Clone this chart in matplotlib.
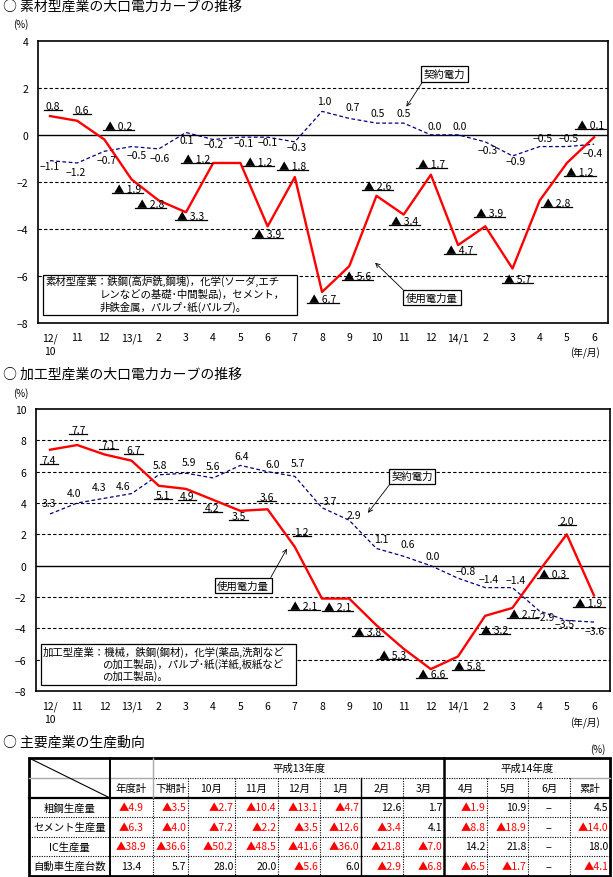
import matplotlib
matplotlib.use("Agg")
import matplotlib.pyplot as plt
from matplotlib.lines import Line2D
from matplotlib.patches import Rectangle
import numpy as np

plt.rcParams['font.family'] = ['Noto Sans CJK JP', 'DejaVu Sans']

# ---- data ----
months = ["12/\n10", "11", "12", "13/1", "2", "3", "4", "5", "6", "7", "8",
          "9", "10", "11", "12", "14/1", "2", "3", "4", "5", "6"]

# 素材型産業
sozai_use = [0.8, 0.6, -0.2, -1.9, -2.8, -3.3, -1.2, -1.2, -3.9, -1.8, -6.7,
             -5.6, -2.6, -3.4, -1.7, -4.7, -3.9, -5.7, -2.8, -1.2, -0.1]
sozai_contract = [-1.1, -1.2, -0.7, -0.5, -0.6, 0.1, -0.2, -0.1, -0.1, -0.3, 1.0,
                  0.7, 0.5, 0.5, 0.0, 0.0, -0.3, -0.9, -0.5, -0.5, -0.4]

# 加工型産業
kakou_use = [7.4, 7.7, 7.1, 6.7, 5.1, 4.9, 4.2, 3.5, 3.6, 1.2, -2.1,
             -2.1, -3.8, -5.3, -6.6, -5.8, -3.2, -2.7, -0.3, 2.0, -1.9]
kakou_contract = [3.3, 4.0, 4.3, 4.6, 5.8, 5.9, 5.6, 6.4, 6.0, 5.7, 3.7,
                  2.9, 1.1, 0.6, 0.0, -0.8, -1.4, -1.4, -2.9, -3.5, -3.6]

# label offsets (pixels)
sozai_use_off = [(3, 10), (5, 11), (14, 14), (-4, -10), (-8, -3), (5, -4), (-17, 4),
                 (18, 1), (0, -8), (-2, 11), (1, -7), (8, -10), (1, 10), (1, -6),
                 (1, 11), (2, -5), (4, 13), (5, -10), (17, -2), (13, -9), (-4, 12)]
sozai_con_off = [(0, -5), (-1, -9), (2, -9), (5, -8), (1, -9), (1, -8), (1, -4),
                 (3, -6), (0, -5), (2, -5), (2, 10), (3, 11), (1, 10), (0, 10),
                 (4, 9), (2, 9), (2, -8), (3, -5), (3, 9), (2, 9), (-1, -9)]
kakou_use_off = [(-1, -10), (1, 15), (4, 9), (2, 11), (4, -9), (1, -7), (-1, -8),
                 (-2, -5), (-1, 12), (7, 15), (-18, -7), (-12, -8), (-9, -7),
                 (-11, -6), (1, -5), (10, -9), (9, -14), (10, -6), (13, -4),
                 (0, 13), (-5, -8)]
kakou_con_off = [(-1, 11), (-3, 10), (-5, 11), (-8, 8), (1, 10), (3, 11), (0, 12),
                 (1, 9), (5, 8), (3, 13), (8, 7), (5, 5), (5, 9), (4, 12), (2, 10),
                 (8, 7), (4, 9), (3, 8), (5, -6), (-2, -4), (1, -9)]

# 主要産業の生産動向
tbl_cols = ["年度計", "下期計", "10月", "11月", "12月", "1月", "2月", "3月",
            "4月", "5月", "6月", "累計"]
tbl_rows = ["粗鋼生産量", "セメント生産量", "IC生産量", "自動車生産台数"]
steel = [-4.9, -3.5, -2.7, -10.4, -13.1, -4.7, 12.6, 1.7, -1.9, 10.9, None, 4.5]
cement = [-6.3, -4.0, -7.2, -2.2, -3.5, -12.6, -3.4, 4.1, -8.8, -18.9, None, -14.0]
ic = [-38.9, -36.6, -50.2, -48.5, -41.6, -36.0, -21.8, -7.0, 14.2, 21.8, None, 18.0]
cars = [13.4, 5.7, 28.0, 20.0, -5.6, 6.0, -2.9, -6.8, -6.5, -1.7, None, -4.1]
tbl_vals = [steel, cement, ic, cars]

W, H = 613, 878
fig = plt.figure(figsize=(W / 100, H / 100), dpi=100)
ov = fig.add_axes([0, 0, 1, 1])
ov.set_xlim(0, W)
ov.set_ylim(H, 0)
ov.axis('off')

RED = '#ff0000'
NAVY = '#000080'
FS = 7.5
underlined = []


def fmt_use(v):
    return "▲ %.1f" % abs(v) if v < 0 else "%.1f" % v


def fmt_con(v):
    return "−%.1f" % abs(v) if v < 0 else "%.1f" % v


def make_chart(rect, ylim, grid, use, con, use_off, con_off, xl):
    ax = fig.add_axes(rect)
    x = np.arange(len(months))
    for g in grid:
        ax.axhline(g, color='black', lw=0.8, ls=(0, (3, 2)), zorder=1)
    ax.axhline(0, color='black', lw=1, zorder=1)
    ax.plot(x, con, color=NAVY, lw=0.9, ls=(0, (3, 2)), zorder=2)
    ax.plot(x, use, color=RED, lw=1.7, zorder=3)
    for i in range(len(x)):
        t = ax.annotate(fmt_use(use[i]), (x[i], use[i]), xytext=use_off[i],
                        textcoords='offset pixels', ha='center', va='center',
                        fontsize=FS, zorder=5)
        underlined.append(t)
        ax.annotate(fmt_con(con[i]), (x[i], con[i]), xytext=con_off[i],
                    textcoords='offset pixels', ha='center', va='center',
                    fontsize=FS, zorder=5)
    ax.set_xlim(*xl)
    ax.set_ylim(*ylim)
    ax.set_xticks(x)
    ax.set_xticklabels(months, fontsize=FS, linespacing=1.35, va='top')
    yt = np.arange(ylim[0], ylim[1] + 1, 2)
    ax.set_yticks(yt)
    ax.set_yticklabels([("−%d" % -v if v < 0 else "%d" % v) for v in yt], fontsize=FS)
    ax.tick_params(length=0, pad=7)
    for s in ax.spines.values():
        s.set_linewidth(1.2)
    return ax


ax1 = make_chart([38 / W, 1 - 323.5 / H, 570 / W, 281.5 / H], (-8, 4), [2, -2, -4, -6],
                 sozai_use, sozai_contract, sozai_use_off, sozai_con_off, (-0.44, 20.51))
ax2 = make_chart([36 / W, 1 - 692 / H, 574 / W, 282 / H], (-8, 10), [8, 6, 4, 2, -2, -4, -6],
                 kakou_use, kakou_contract, kakou_use_off, kakou_con_off, (-0.515, 20.59))

box = dict(boxstyle='square,pad=0.25', fc='white', ec='black', lw=0.9)
arrow = dict(arrowstyle='->', color='black', lw=0.6, shrinkA=0, shrinkB=0)

ax1.annotate("契約電力", xy=(13.1, 1.2), xytext=(14.5, 2.6), ha='center', va='center',
             fontsize=FS, bbox=box, arrowprops=dict(arrow, relpos=(0.02, 0)), zorder=6)
ax1.annotate("使用電力量", xy=(11.95, -5.45), xytext=(14.04, -6.94), ha='center', va='center',
             fontsize=FS, bbox=box, arrowprops=dict(arrow, relpos=(0, 1)), zorder=6)
ax2.annotate("契約電力", xy=(11.69, 3.37), xytext=(13.31, 5.71), ha='center', va='center',
             fontsize=FS, bbox=box, arrowprops=dict(arrow, relpos=(0.02, 0)), zorder=6)
ax2.annotate("使用電力量", xy=(8.71, 1.08), xytext=(7.1, -1.27), ha='center', va='center',
             fontsize=FS, bbox=box, arrowprops=dict(arrow, relpos=(1, 1)), zorder=6)

# description boxes
ax1.add_patch(Rectangle((-0.26, -7.66), 9.34, 1.70, fc='white', ec='black', lw=0.9, zorder=6))
ax1.text(-0.18, -6.21, "素材型産業：鉄鋼(高炉銑,鋼塊)，化学(ソーダ,エチ", fontsize=FS, va='center', zorder=7)
ax1.text(1.84, -6.77, "レンなどの基礎･中間製品)，セメント，", fontsize=FS, va='center', zorder=7)
ax1.text(1.84, -7.30, "非鉄金属，パルプ･紙(パルプ)。", fontsize=FS, va='center', zorder=7)

ax2.add_patch(Rectangle((-0.33, -7.62), 9.37, 2.60, fc='white', ec='black', lw=0.9, zorder=6))
ax2.text(-0.26, -5.46, "加工型産業：機械，鉄鋼(鋼材)，化学(薬品,洗剤など", fontsize=FS, va='center', zorder=7)
ax2.text(1.91, -6.22, "の加工製品)，パルプ･紙(洋紙,板紙など", fontsize=FS, va='center', zorder=7)
ax2.text(1.91, -6.98, "の加工製品)。", fontsize=FS, va='center', zorder=7)

# titles and unit labels
ov.text(3, 7, "○ 素材型産業の大口電力カーブの推移", fontsize=10, va='center')
ov.text(3, 375, "○ 加工型産業の大口電力カーブの推移", fontsize=10, va='center')
ov.text(3, 743, "○ 主要産業の生産動向", fontsize=10, va='center')
ov.text(21, 25, "(%)", fontsize=7, ha='center', va='center')
ov.text(21, 394, "(%)", fontsize=7, ha='center', va='center')
ov.text(585, 353, "(年/月)", fontsize=7, ha='center', va='center')
ov.text(585, 723, "(年/月)", fontsize=7, ha='center', va='center')
ov.text(598, 750, "(%)", fontsize=7, ha='center', va='center')

# ---- table ----
cx = [29, 110, 153, 188, 235, 278, 320, 361, 403, 444, 487, 528, 570, 610]
ry = [759, 779, 799, 818, 838, 857, 877]
dot = dict(color='black', lw=0.8, ls=(0, (1, 1.2)))
grey = dict(color='#aaaaaa', lw=1)

ov.plot([29, 153], [779, 779], **grey)
ov.plot([153, 570], [779, 779], **dot)
ov.plot([570, 610], [779, 779], **grey)
for y in ry[3:6]:
    ov.plot([29, 610], [y, y], **dot)
ov.plot([29, 610], [799, 799], color='black', lw=1.6)
ov.plot([153, 153], [759, 799], **grey)
ov.plot([153, 153], [799, 877], **dot)
for xv in [188, 235, 278, 320, 403, 487, 528, 570]:
    ov.plot([xv, xv], [779, 877], **dot)
ov.plot([361, 361], [779, 877], color='black', lw=1)
ov.plot([110, 110], [759, 877], color='black', lw=1.4)
ov.plot([444, 444], [759, 877], color='black', lw=1.8)
ov.plot([29, 110], [759, 799], color='black', lw=0.8)
ov.add_patch(Rectangle((29, 759), 581, 118, fill=False, ec='black', lw=2))

ov.text((153 + 444) / 2, 769, "平成13年度", fontsize=FS, ha='center', va='center')
ov.text((444 + 610) / 2, 769, "平成14年度", fontsize=FS, ha='center', va='center')
for j, c in enumerate(tbl_cols):
    ov.text((cx[j + 1] + cx[j + 2]) / 2, 789, c, fontsize=FS, ha='center', va='center')
for r, name in enumerate(tbl_rows):
    yc = (ry[r + 2] + ry[r + 3]) / 2
    ov.text((cx[0] + cx[1]) / 2, yc, name, fontsize=FS, ha='center', va='center')
    for j, v in enumerate(tbl_vals[r]):
        if v is None:
            ov.text((cx[j + 1] + cx[j + 2]) / 2, yc, "−", fontsize=FS, ha='center', va='center')
            continue
        s = "▲%.1f" % abs(v) if v < 0 else "%.1f" % v
        col = RED if v < 0 else 'black'
        if j == 0:
            ov.text((cx[1] + cx[2]) / 2, yc, s, fontsize=FS, ha='center', va='center', color=col)
        else:
            ov.text(cx[j + 2] - 1.5, yc, s, fontsize=FS, ha='right', va='center', color=col)

# underline the 使用電力量 labels
fig.canvas.draw()
rend = fig.canvas.get_renderer()
for t in underlined:
    bb = t.get_window_extent(rend)
    yy = (bb.y0 + 1) / H
    fig.add_artist(Line2D([(bb.x0 - 2) / W, (bb.x1 + 2) / W], [yy, yy],
                          transform=fig.transFigure, color='black', lw=0.9))

fig.savefig("out.png", dpi=100)
